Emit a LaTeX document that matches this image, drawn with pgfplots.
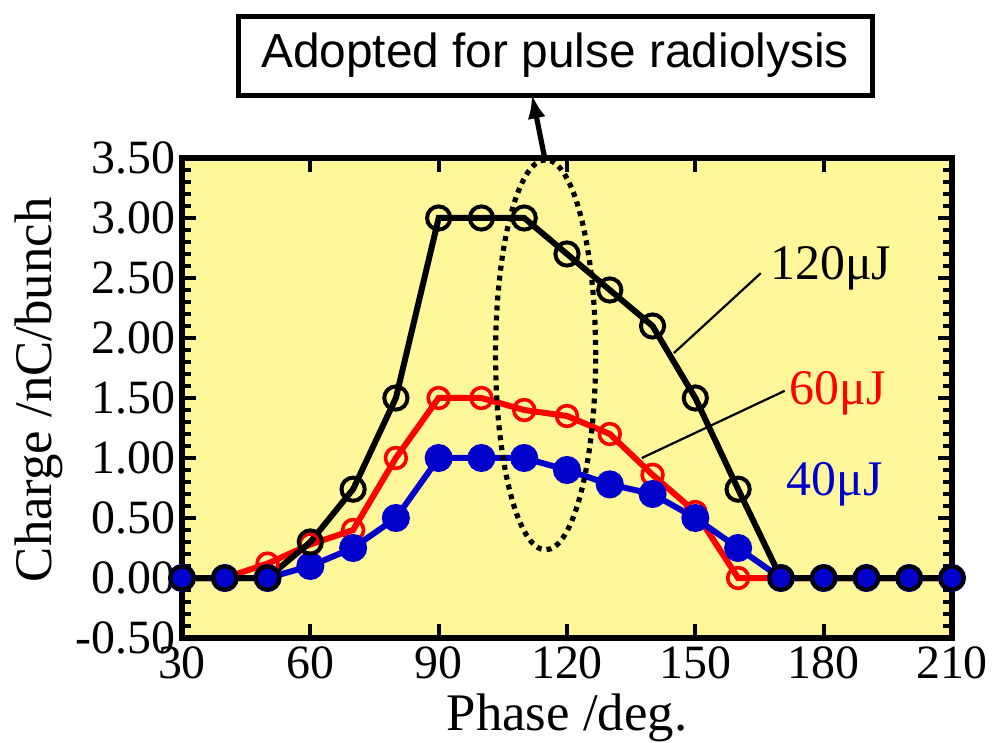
\documentclass[border=0pt]{standalone}
\usepackage{fontspec}
\setmainfont{Liberation Serif}
\setsansfont{Liberation Sans}
\usepackage{pgfplots}
\pgfplotsset{compat=1.18}
\usetikzlibrary{arrows.meta}
\definecolor{bgyellow}{RGB}{255,247,153}
\definecolor{dblue}{RGB}{0,0,204}

\begin{document}
\begin{tikzpicture}
% fixed page box so that proportions follow the reference
\path[use as bounding box] (-91bp,-52.5bp) rectangle (408.5bp,319bp);
\begin{axis}[
  at={(0,0)}, anchor=south west,
  scale only axis, width=385bp, height=240bp,
  xmin=30, xmax=210, ymin=-0.5, ymax=3.5,
  xtick={30,60,...,210},
  ytick={-0.5,0,0.5,1,1.5,2,2.5,3,3.5},
  minor y tick num=4,
  axis background/.style={fill=bgyellow},
  axis line style={line width=2.8bp},
  every tick/.style={black, line width=2bp},
  major tick length=7bp, minor tick length=4.5bp,
  tick align=inside,
  y tick label style={/pgf/number format/.cd, fixed, fixed zerofill, precision=2},
  x tick label style={yshift=-1bp},
  /pgf/number format/assume math mode=true,
  tick label style={font=\fontsize{24}{26}\selectfont},
  label style={font=\fontsize{26.5}{28}\selectfont},
  xlabel={Phase /deg.}, ylabel={Charge /nC/bunch},
  xlabel style={at={(axis description cs:0.5,0)}, anchor=base, yshift=-46bp},
  ylabel style={at={(axis description cs:-0.186,0.517)}, anchor=center},
  clip=false,
]
% 60 uJ
\addplot[red, line width=3bp, mark=o, mark size=5.2bp, mark options={line width=1.8bp}]
  coordinates {(30,0) (40,0) (50,0.12) (60,0.28) (70,0.4) (80,1.0) (90,1.5) (100,1.5)
  (110,1.4) (120,1.35) (130,1.2) (140,0.86) (150,0.55) (160,0) (170,0) (180,0)
  (190,0) (200,0) (210,0)};
% 40 uJ
\addplot[dblue, line width=3bp, mark=*, mark size=5.5bp, mark options={fill=dblue, draw=dblue}]
  coordinates {(30,0) (40,0) (50,0) (60,0.1) (70,0.25) (80,0.5) (90,1.0) (100,1.0)
  (110,1.0) (120,0.9) (130,0.78) (140,0.7) (150,0.5) (160,0.25) (170,0) (180,0)
  (190,0) (200,0) (210,0)};
% 120 uJ
\addplot[black, line width=3bp, mark=o, mark size=5.8bp, mark options={line width=2bp}]
  coordinates {(30,0) (40,0) (50,0) (60,0.3) (70,0.74) (80,1.5) (90,3.0) (100,3.0)
  (110,3.0) (120,2.7) (130,2.4) (140,2.1) (150,1.5) (160,0.74) (170,0) (180,0)
  (190,0) (200,0) (210,0)};

\draw[line width=2.6bp, dash pattern=on 2.5bp off 2.5bp]
  (axis cs:115,1.86) ellipse [x radius=11.7, y radius=1.625];
\draw[line width=2.6bp, -{Latex[length=12bp,width=9bp]}]
  (axis cs:114.9,3.48) -- (axis cs:111.8,4.03);
\node[draw, line width=2.5bp, fill=white, minimum width=317bp, minimum height=39.5bp,
  inner sep=0pt, font=\sffamily\fontsize{24}{26}\selectfont]
  at (axis cs:117.2,4.354) {Adopted for pulse radiolysis};

\draw[line width=1.1bp] (axis cs:165.3,2.54) -- (axis cs:145,1.875);
\draw[line width=1.1bp] (axis cs:170.9,1.56) -- (axis cs:137.5,1.0);
\node[font=\fontsize{25}{27}\selectfont] at (axis cs:181.7,2.58) {120μJ};
\node[red, font=\fontsize{25}{27}\selectfont] at (axis cs:183.3,1.54) {60μJ};
\node[dblue, font=\fontsize{25}{27}\selectfont] at (axis cs:182.6,0.78) {40μJ};
\end{axis}
\end{tikzpicture}
\end{document}
